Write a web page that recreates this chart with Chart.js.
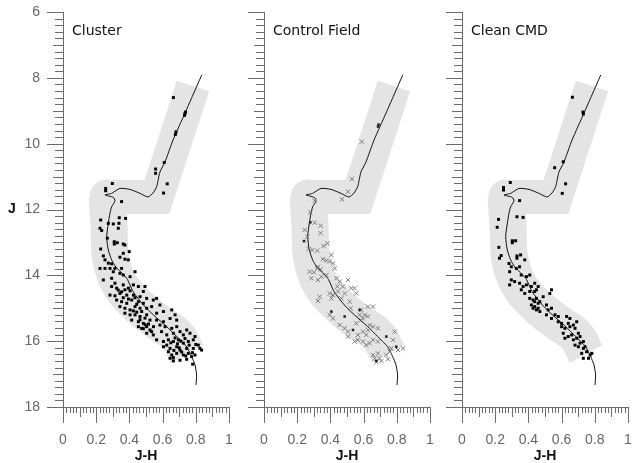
<!DOCTYPE html>
<html>
<head>
<meta charset="utf-8">
<script src="https://cdn.jsdelivr.net/npm/chart.js@4.4.1/dist/chart.umd.min.js"></script>
<style>
  body { margin: 0; background: #fff; }
  canvas.panel { position: absolute; top: 0; }
</style>
</head>
<body>
<canvas id="cluster" class="panel" width="240" height="463" style="left:0px"></canvas>
<canvas id="field" class="panel" width="240" height="463" style="left:201px"></canvas>
<canvas id="clean" class="panel" width="240" height="463" style="left:399px"></canvas>
<script>
// axes
const xRange = [0, 1];
const jRange = [6, 18];
const xMajorStep = 0.2, xMinorStep = 0.02;
const jMajorStep = 2, jMinorStep = 0.2;
const panelTitles = ['Cluster', 'Control Field', 'Clean CMD'];

// isochrone [J-H, J]
const isochrone = [
  [0.836, 7.91], [0.783, 8.52], [0.735, 9.07], [0.663, 9.89], [0.614, 10.56], [0.584, 10.86],
  [0.564, 11.31], [0.542, 11.50], [0.512, 11.62], [0.464, 11.51], [0.404, 11.39], [0.343, 11.36],
  [0.293, 11.51], [0.253, 11.56], [0.303, 11.63], [0.313, 11.74], [0.293, 11.92], [0.283, 12.11],
  [0.273, 12.42], [0.263, 12.83], [0.273, 13.23], [0.293, 13.53], [0.319, 13.75], [0.384, 14.09],
  [0.423, 14.50], [0.484, 14.90], [0.544, 15.20], [0.625, 15.56], [0.685, 15.86], [0.745, 16.17],
  [0.775, 16.47], [0.795, 16.72], [0.805, 17.03], [0.801, 17.33]
];

// grey selection band (centre line)
const bandUpper = [[0.783, 8.25], [0.566, 11.62], [0.265, 11.62]];
const bandLower = [
  [0.265, 11.62], [0.277, 12.47], [0.289, 13.53], [0.343, 14.29], [0.446, 14.90],
  [0.572, 15.42], [0.687, 15.84], [0.747, 16.39]
];

// cluster field stars
const clusterStars = [
  [0.665, 8.60], [0.735, 9.08], [0.732, 9.14], [0.738, 9.04], [0.681, 9.64], [0.677, 9.72],
  [0.610, 10.57], [0.558, 10.77], [0.558, 10.90], [0.628, 11.22], [0.606, 11.50], [0.297, 11.21],
  [0.257, 11.36], [0.257, 11.43], [0.353, 11.76],
  [0.227, 12.32], [0.223, 12.57], [0.233, 12.64], [0.273, 12.42], [0.303, 12.44], [0.339, 12.25],
  [0.377, 12.27], [0.337, 12.42], [0.333, 12.57], [0.267, 12.87], [0.309, 12.98], [0.309, 13.05],
  [0.327, 13.01], [0.363, 13.05], [0.373, 13.08], [0.227, 13.20], [0.243, 13.41], [0.253, 13.53],
  [0.363, 13.33], [0.399, 13.28], [0.343, 13.45], [0.373, 13.51], [0.393, 13.53], [0.273, 13.63],
  [0.293, 13.65], [0.223, 13.79], [0.253, 13.79], [0.283, 13.79], [0.313, 13.79], [0.353, 13.79],
  [0.243, 14.14], [0.303, 13.89], [0.293, 14.09], [0.343, 13.94], [0.363, 13.99], [0.404, 14.04],
  [0.434, 13.89], [0.313, 14.24], [0.293, 14.34], [0.323, 14.39], [0.363, 14.29], [0.394, 14.39],
  [0.424, 14.29], [0.454, 14.34], [0.494, 14.34], [0.484, 14.49], [0.283, 14.60], [0.343, 14.55],
  [0.384, 14.60], [0.424, 14.60], [0.464, 14.65], [0.504, 14.70], [0.323, 14.75], [0.353, 14.80],
  [0.384, 14.85], [0.414, 14.75], [0.454, 14.80], [0.484, 14.85], [0.564, 14.70], [0.544, 14.75],
  [0.343, 14.95], [0.373, 15.00], [0.404, 15.05], [0.434, 14.95], [0.464, 15.00], [0.504, 15.00],
  [0.534, 14.95], [0.584, 14.90], [0.373, 15.15], [0.404, 15.20], [0.434, 15.20], [0.464, 15.25],
  [0.504, 15.20], [0.564, 15.15], [0.605, 15.10], [0.655, 15.05], [0.414, 15.36], [0.454, 15.41],
  [0.484, 15.46], [0.524, 15.36], [0.564, 15.36], [0.605, 15.41], [0.675, 15.20], [0.685, 15.36],
  [0.645, 15.31], [0.454, 15.56], [0.474, 15.61], [0.504, 15.56], [0.524, 15.66], [0.534, 15.71],
  [0.584, 15.51], [0.615, 15.56], [0.655, 15.61], [0.685, 15.56], [0.504, 15.76], [0.544, 15.81],
  [0.594, 15.71], [0.625, 15.81], [0.665, 15.76], [0.705, 15.71], [0.745, 15.66], [0.725, 15.81],
  [0.765, 15.76], [0.795, 15.86], [0.564, 15.96], [0.605, 16.01], [0.635, 15.96], [0.665, 16.01],
  [0.695, 15.96], [0.725, 16.06], [0.755, 16.01], [0.785, 15.96], [0.815, 16.12], [0.825, 16.22],
  [0.605, 16.17], [0.625, 16.12], [0.645, 16.22], [0.685, 16.17], [0.705, 16.27], [0.745, 16.22],
  [0.785, 16.22], [0.635, 16.32], [0.655, 16.42], [0.685, 16.37], [0.725, 16.42], [0.755, 16.37],
  [0.795, 16.42], [0.835, 16.27], [0.645, 16.52], [0.665, 16.50], [0.705, 16.58], [0.745, 16.55],
  [0.775, 16.47], [0.665, 16.60], [0.781, 16.70],
  [0.333, 14.45], [0.353, 14.50], [0.373, 14.44], [0.404, 14.47], [0.313, 14.62], [0.363, 14.68],
  [0.394, 14.72], [0.434, 14.68], [0.444, 14.88], [0.424, 15.08], [0.444, 15.12], [0.474, 15.10],
  [0.494, 15.30], [0.464, 15.35], [0.484, 15.62], [0.495, 15.50], [0.515, 15.48], [0.545, 15.56],
  [0.675, 15.90], [0.690, 16.08], [0.710, 16.00], [0.735, 15.92], [0.700, 16.20], [0.760, 16.12],
  [0.715, 16.33], [0.740, 16.45], [0.780, 16.35], [0.800, 16.10], [0.650, 16.05], [0.668, 16.28]
];

// control field stars
const fieldStars = [
  [0.589, 9.94], [0.530, 11.07], [0.506, 11.46], [0.470, 11.69], [0.305, 11.73], [0.279, 12.09],
  [0.305, 12.40], [0.341, 12.49], [0.341, 12.72], [0.245, 12.62], [0.261, 12.83], [0.359, 13.11],
  [0.382, 13.03], [0.269, 13.20], [0.291, 13.23], [0.321, 13.25], [0.406, 13.38], [0.355, 13.51],
  [0.375, 13.55], [0.396, 13.58], [0.416, 13.64], [0.426, 13.79], [0.321, 13.79], [0.341, 13.82],
  [0.325, 13.74], [0.275, 13.89], [0.301, 13.91], [0.285, 14.09], [0.325, 14.14], [0.345, 14.04],
  [0.376, 13.99], [0.436, 14.09], [0.456, 14.19], [0.506, 14.14], [0.476, 14.34], [0.526, 14.39],
  [0.546, 14.39], [0.442, 14.34], [0.446, 14.49], [0.396, 14.55], [0.416, 14.60], [0.486, 14.55],
  [0.556, 14.55], [0.335, 14.65], [0.325, 14.78], [0.406, 14.70], [0.466, 14.70], [0.516, 14.80],
  [0.522, 15.00], [0.396, 15.20], [0.416, 15.31], [0.626, 14.95], [0.656, 14.95], [0.586, 15.05],
  [0.606, 15.20], [0.576, 15.20], [0.596, 15.31], [0.626, 15.25], [0.456, 15.51], [0.486, 15.61],
  [0.506, 15.71], [0.556, 15.46], [0.586, 15.36], [0.566, 15.81], [0.596, 15.71], [0.616, 15.81],
  [0.626, 15.66], [0.636, 15.51], [0.656, 15.56], [0.686, 15.61], [0.566, 15.96], [0.506, 15.86],
  [0.546, 16.01], [0.596, 16.01], [0.616, 16.12], [0.636, 16.06], [0.656, 15.96], [0.686, 16.01],
  [0.787, 15.71], [0.777, 15.96], [0.767, 16.22], [0.807, 16.27], [0.837, 16.22], [0.686, 16.37],
  [0.656, 16.42], [0.666, 16.52], [0.696, 16.52], [0.676, 16.64], [0.707, 16.60], [0.737, 16.42],
  [0.747, 16.55], [0.757, 16.32]
];
const fieldDarkStars = [
  [0.687, 9.48], [0.690, 9.42], [0.279, 12.39], [0.241, 12.96], [0.406, 15.10], [0.486, 15.25],
  [0.576, 15.05], [0.536, 15.66], [0.737, 15.86], [0.797, 16.17], [0.677, 16.60]
];

// field-subtracted cluster stars
const cleanStars = [
  [0.665, 8.59], [0.729, 9.04], [0.731, 9.10], [0.610, 10.55], [0.558, 10.73], [0.624, 11.22],
  [0.604, 11.51], [0.291, 11.18], [0.250, 11.33], [0.250, 11.41], [0.347, 11.73], [0.220, 12.30],
  [0.212, 12.54], [0.331, 12.22], [0.368, 12.24], [0.303, 12.95], [0.303, 13.01], [0.323, 12.95],
  [0.222, 13.15], [0.236, 13.40], [0.226, 13.48], [0.331, 13.41], [0.331, 13.48], [0.353, 13.38],
  [0.378, 13.53], [0.283, 13.64],
  [0.297, 13.74], [0.327, 13.79], [0.347, 13.74], [0.287, 13.89], [0.357, 13.99], [0.388, 14.04],
  [0.408, 13.99], [0.297, 14.14], [0.287, 14.29], [0.317, 14.19], [0.347, 14.24], [0.368, 14.34],
  [0.388, 14.29], [0.418, 14.34], [0.438, 14.24], [0.459, 14.34], [0.448, 14.44], [0.357, 14.44],
  [0.378, 14.55], [0.408, 14.49], [0.438, 14.49], [0.539, 14.44], [0.529, 14.55], [0.408, 14.70],
  [0.428, 14.75], [0.448, 14.70], [0.438, 14.80], [0.459, 14.85], [0.469, 14.80], [0.418, 14.90],
  [0.438, 14.95], [0.459, 15.00], [0.469, 15.10], [0.448, 15.05], [0.428, 15.00], [0.489, 14.65],
  [0.509, 14.90], [0.519, 15.05], [0.539, 15.00], [0.509, 15.20], [0.539, 15.31], [0.560, 15.20],
  [0.580, 15.25], [0.580, 15.41], [0.600, 15.46], [0.630, 15.25], [0.650, 15.31], [0.640, 15.46],
  [0.600, 15.56], [0.620, 15.61], [0.650, 15.56], [0.671, 15.51], [0.691, 15.41], [0.681, 15.61],
  [0.610, 15.76], [0.620, 15.91], [0.640, 15.86], [0.661, 15.81], [0.671, 15.96], [0.691, 15.91],
  [0.711, 15.86], [0.701, 15.76], [0.731, 16.01], [0.681, 16.12], [0.701, 16.17], [0.711, 16.06],
  [0.731, 16.22], [0.741, 16.17], [0.751, 16.32], [0.772, 16.42], [0.721, 16.37], [0.762, 16.52],
  [0.731, 16.52], [0.782, 16.37]
];

const AXIS = '#6b6b6b';
const BAND = '#e4e4e4';

function toXY(list) {
  return list.map(p => ({ x: p[0], y: p[1] }));
}

// minor ticks, panel title and the J label
const decor = {
  id: 'decor',
  afterDraw(chart, args, opts) {
    const { ctx } = chart;
    const xs = chart.scales.x, ys = chart.scales.y;
    ctx.save();
    ctx.strokeStyle = AXIS;
    ctx.lineWidth = 1;
    ctx.beginPath();
    const nY = Math.round((jRange[1] - jRange[0]) / jMinorStep);
    const perMajorY = Math.round(jMajorStep / jMinorStep);
    for (let i = 0; i <= nY; i++) {
      const py = Math.round(ys.getPixelForValue(jRange[0] + i * jMinorStep)) + 0.5;
      const len = i % perMajorY === 0 ? 16 : (i % (perMajorY / 2) === 0 ? 10 : 8);
      ctx.moveTo(ys.right - len, py);
      ctx.lineTo(ys.right, py);
    }
    const nX = Math.round((xRange[1] - xRange[0]) / xMinorStep);
    const perMajorX = Math.round(xMajorStep / xMinorStep);
    for (let i = 0; i <= nX; i++) {
      const px = Math.round(xs.getPixelForValue(xRange[0] + i * xMinorStep)) + 0.5;
      const len = i % perMajorX === 0 ? 16 : (i % (perMajorX / 2) === 0 ? 10 : 6);
      ctx.moveTo(px, xs.top);
      ctx.lineTo(px, xs.top + len);
    }
    ctx.stroke();

    ctx.fillStyle = '#111';
    ctx.textBaseline = 'middle';
    ctx.textAlign = 'left';
    ctx.font = '14px "DejaVu Sans"';
    ctx.fillText(opts.title, ys.right + 9, 31);
    if (opts.showJ) {
      ctx.font = 'bold 14px "Liberation Sans"';
      ctx.textAlign = 'center';
      ctx.fillText('J', 12, ys.getPixelForValue(12));
    }
    ctx.restore();
  }
};

function commonDatasets() {
  return [
    {
      data: toXY(isochrone), showLine: true, borderColor: '#111', borderWidth: 1,
      pointRadius: 0, tension: 0.2, order: 2
    },
    {
      data: toXY(bandLower), showLine: true, borderColor: BAND, borderWidth: 37,
      borderCapStyle: 'butt', borderJoinStyle: 'round', tension: 0.4,
      pointRadius: ctx => ctx.dataIndex === 0 ? 17.5 : 0,
      pointBackgroundColor: BAND, pointBorderWidth: 0, order: 3, isBand: true
    },
    {
      data: toXY(bandUpper), showLine: true, borderColor: BAND, borderWidth: 34,
      borderCapStyle: 'butt', borderJoinStyle: 'miter', tension: 0,
      pointRadius: 0, order: 4, isBand: true
    }
  ];
}

// invisible tick marks only to space the labels away from the axis
function spacerGrid(len) {
  return { display: true, drawOnChartArea: false, drawTicks: true, tickLength: len, color: 'rgba(0,0,0,0)' };
}

function makePanel(id, title, stars, showYLabels) {
  const tickFont = { family: 'Liberation Sans', size: 14 };
  const chart = new Chart(document.getElementById(id), {
    type: 'scatter',
    data: { datasets: stars.concat(commonDatasets()) },
    options: {
      responsive: false,
      animation: false,
      events: [],
      layout: { autoPadding: false, padding: { top: 12, right: 11, left: 0, bottom: 0 } },
      plugins: {
        legend: { display: false },
        tooltip: { enabled: false },
        decor: { title: title, showJ: showYLabels }
      },
      scales: {
        x: {
          type: 'linear', min: xRange[0], max: xRange[1],
          afterFit: s => { s.height = 56; },
          grid: spacerGrid(22),
          border: { display: true, color: AXIS, width: 1 },
          ticks: {
            stepSize: xMajorStep, padding: 3, color: '#666', font: tickFont,
            callback: v => String(Number(v.toFixed(2)))
          },
          title: {
            display: true, text: 'J-H', color: '#111',
            font: { family: 'Liberation Sans', size: 14, weight: 'bold', lineHeight: 1 },
            padding: { top: 0, bottom: 0 }
          }
        },
        y: {
          type: 'linear', reverse: true, min: jRange[0], max: jRange[1],
          afterFit: s => { s.width = 63; },
          grid: spacerGrid(20),
          border: { display: true, color: AXIS, width: 1 },
          ticks: { display: showYLabels, stepSize: jMajorStep, padding: 3, color: '#666', font: tickFont }
        }
      }
    },
    plugins: [decor]
  });

  // the wide band strokes should not push the plot box inwards
  chart.data.datasets.forEach((ds, i) => {
    if (ds.isBand) chart.getDatasetMeta(i).controller.getMaxOverflow = () => 0;
  });
  chart.update();
  return chart;
}

const squareStyle = {
  pointStyle: 'rect', pointRadius: 2.1, pointBackgroundColor: '#000', pointBorderWidth: 0, order: 0
};

makePanel('cluster', panelTitles[0], [
  Object.assign({ data: toXY(clusterStars) }, squareStyle)
], true);

makePanel('field', panelTitles[1], [
  Object.assign({ data: toXY(fieldDarkStars) }, squareStyle, { pointRadius: 1.8, pointBackgroundColor: '#222' }),
  {
    data: toXY(fieldStars), pointStyle: 'crossRot', pointRadius: 3,
    pointBorderColor: '#7a7a7a', pointBorderWidth: 1, pointBackgroundColor: '#7a7a7a', order: 1
  }
], false);

makePanel('clean', panelTitles[2], [
  Object.assign({ data: toXY(cleanStars) }, squareStyle)
], false);
</script>
</body>
</html>
